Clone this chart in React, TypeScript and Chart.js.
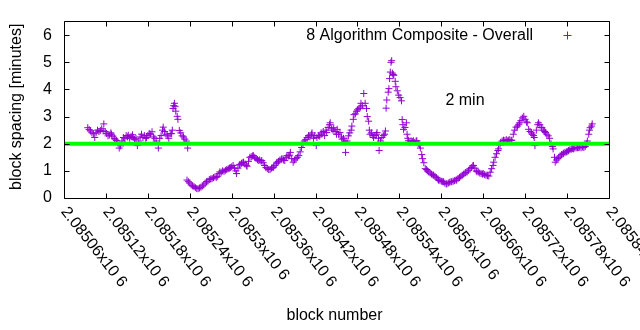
import React, { useEffect, useRef } from 'react';
import { Chart, registerables } from 'chart.js';

Chart.register(...registerables);

// ---- data (block numbers are BLOCK_BASE + offset) ----
const BLOCK_BASE = 2085000;

const blockOffsetsA = [
  94, 96, 98, 100, 102, 104, 106, 108, 110, 112,
  114, 116, 117, 119, 121, 123, 125, 127, 128, 130,
  132, 133, 135, 137, 139, 141, 143, 145, 147, 149,
  151, 152, 154, 156, 158, 159, 161, 163, 165, 167,
  169, 171, 173, 175, 177, 178, 180, 182, 184, 186,
  188, 190, 192, 195, 197, 199, 201, 202, 204, 206,
  208, 210, 212, 214, 215, 216, 217, 218, 219, 220,
  222, 223, 225, 227, 229, 231, 233, 235, 237,
];
const spacingA = [
  2.59, 2.52, 2.47, 2.4, 2.37, 2.23, 2.4, 2.5, 2.45, 2.49,
  2.55, 2.47, 2.73, 2.45, 2.38, 2.29, 2.32, 2.4, 2.35, 2.28,
  2.2, 2.17, 2.12, 2.05, 1.84, 1.92, 2.1, 2.23, 2.18, 2.3,
  2.25, 2.31, 2.2, 2.27, 2.33, 2.23, 2.15, 2.2, 1.93, 2.1,
  2.25, 2.35, 2.22, 2.3, 2.2, 2.23, 2.3, 2.38, 2.35, 2.44,
  2.25, 2.2, 2.1, 1.84, 2.2, 2.3, 2.5, 2.61, 2.45, 2.35,
  2.29, 2.2, 2.37, 2.37, 2.5, 3.3, 3.4, 3.49, 3.38, 3.2,
  3.01, 2.9, 2.49, 2.4, 2.29, 2.25, 2.17, 2.1, 1.84,
];

const blockOffsetsB = [
  236, 238, 240, 242, 244, 246, 248, 250, 252, 254,
  256, 258, 260, 262, 264, 266, 268, 270, 272, 274,
  276, 278, 280, 282, 283, 285, 287, 289, 291, 293,
  295, 297, 298, 300, 302, 304, 306, 307, 309, 311,
  312, 314, 316, 317, 319, 321, 322, 324, 326, 328,
  330, 331, 333, 335, 337, 338, 340, 342, 343, 345,
  347, 349, 351, 353, 355, 357, 359, 360, 362, 364,
  365, 367, 369, 371, 372, 374, 376, 378, 379, 381,
  383, 384,
];
const spacingB = [
  0.66, 0.6, 0.55, 0.48, 0.45, 0.42, 0.38, 0.35, 0.34, 0.37,
  0.4, 0.44, 0.48, 0.55, 0.6, 0.62, 0.68, 0.7, 0.72, 0.75,
  0.78, 0.76, 0.8, 0.9, 0.96, 0.95, 1.0, 0.98, 1.02, 1.05,
  1.08, 1.1, 1.12, 1.15, 1.2, 1.1, 1.0, 0.9, 1.1, 1.22,
  1.24, 1.28, 1.3, 1.32, 1.25, 1.2, 1.17, 1.35, 1.5, 1.52,
  1.55, 1.56, 1.5, 1.45, 1.42, 1.38, 1.4, 1.36, 1.38, 1.3,
  1.2, 1.12, 1.08, 1.05, 1.05, 1.1, 1.12, 1.14, 1.2, 1.28,
  1.32, 1.35, 1.4, 1.42, 1.45, 1.4, 1.38, 1.5, 1.56, 1.55,
  1.58, 1.68,
];

const blockOffsetsC = [
  386, 388, 390, 392, 394, 396, 398, 400, 402, 404,
  406, 408, 410, 412, 414, 415, 417, 419, 421, 422,
  424, 426, 428, 429, 431, 433, 435, 436, 438, 440,
  441, 443, 445, 446, 448, 450, 451, 453, 455, 457,
  458, 460, 462, 463, 465, 467, 469, 471, 472, 474,
  475, 477, 479, 480, 482, 484, 485, 487, 489, 491,
  493, 494, 496, 497, 498, 500, 502, 503, 505, 507,
  508, 510, 511, 513, 515, 517, 519, 520, 521, 522,
  524, 525, 526, 527, 528, 529, 530, 531, 532, 534,
  535, 537, 539, 541, 543, 544, 545, 546, 548, 550,
  551, 552, 553, 555, 557, 559, 560, 562, 564, 565,
  567, 569, 570, 572, 573, 575, 577, 579, 580, 582,
  584, 586, 588, 589, 591, 593, 595, 596, 598, 600,
  602, 603, 605, 607, 608, 610, 612, 614, 615, 617,
  619, 621, 622, 624, 626, 628, 630, 632, 634, 635,
  637, 639, 641, 643, 645, 646, 648, 650, 651, 653,
  655, 657, 659, 660, 662, 664, 666, 668, 670, 672,
  674, 675, 677, 679, 681, 682, 684, 685, 687, 689,
  691, 693, 695, 696, 698, 700, 701, 703, 705, 707,
  709, 711, 712, 714, 716, 718, 720, 722, 723, 725,
  727, 729, 730, 732, 733, 734, 736, 738, 739, 741,
  743, 744, 746, 748, 749, 751, 753, 755, 757, 759,
  760, 762, 763, 765, 767, 768, 770, 772, 774, 775,
  777, 779, 781, 782, 784, 786, 788, 789, 791, 793,
  795, 796, 798, 800, 802, 804, 806, 808, 809, 811,
  812, 813, 815, 816,
];
const spacingC = [
  1.45, 1.32, 1.4, 1.45, 1.5, 1.56, 1.7, 1.86, 2.0, 2.1,
  2.15, 2.23, 2.3, 2.25, 2.35, 2.4, 2.2, 2.3, 1.93, 2.23,
  2.3, 2.28, 2.4, 2.35, 2.45, 2.3, 2.5, 2.41, 2.6, 2.7,
  2.77, 2.55, 2.5, 2.59, 2.45, 2.35, 2.53, 2.35, 2.41, 2.25,
  2.17, 2.2, 2.1, 1.68, 2.1, 2.29, 2.4, 2.5, 2.65, 2.9,
  3.07, 3.1, 3.2, 3.25, 3.3, 3.35, 3.49, 3.4, 3.85, 3.49,
  3.3, 3.0, 2.83, 2.5, 2.35, 2.4, 2.3, 2.23, 2.3, 2.35,
  2.41, 2.2, 1.75, 2.1, 2.23, 2.3, 2.35, 2.47, 3.31, 3.61,
  3.9, 4.03, 4.4, 4.64, 5.0, 5.06, 4.6, 4.55, 4.52, 4.3,
  4.1, 3.95, 3.79, 3.7, 3.58, 2.89, 2.7, 2.53, 2.6, 2.77,
  2.35, 2.2, 2.11, 2.05, 2.1, 2.08, 2.11, 2.05, 2.1, 2.11,
  2.0, 1.95, 1.84, 1.6, 1.45, 1.3, 1.08, 1.05, 1.0, 0.96,
  0.92, 0.88, 0.85, 0.84, 0.8, 0.75, 0.7, 0.66, 0.65, 0.62,
  0.6, 0.6, 0.55, 0.52, 0.52, 0.55, 0.58, 0.6, 0.6, 0.62,
  0.64, 0.66, 0.66, 0.72, 0.76, 0.8, 0.84, 0.88, 0.92, 0.94,
  0.96, 1.02, 1.08, 1.12, 1.18, 1.2, 1.1, 1.0, 0.97, 0.96,
  0.92, 0.9, 0.88, 0.9, 0.86, 0.84, 0.82, 0.81, 0.95, 1.08,
  1.2, 1.32, 1.5, 1.63, 1.75, 1.81, 1.95, 2.05, 2.1, 2.13,
  2.12, 2.15, 2.1, 2.13, 2.15, 2.12, 2.13, 2.35, 2.5, 2.61,
  2.65, 2.7, 2.77, 2.85, 2.95, 3.01, 2.9, 2.8, 2.77, 2.53,
  2.45, 2.4, 2.35, 2.3, 2.23, 1.93, 2.5, 2.7, 2.77, 2.7,
  2.6, 2.59, 2.5, 2.45, 2.41, 2.35, 2.29, 2.2, 2.0, 1.9,
  1.81, 1.5, 1.32, 1.4, 1.45, 1.5, 1.55, 1.6, 1.62, 1.65,
  1.68, 1.7, 1.72, 1.75, 1.78, 1.8, 1.82, 1.81, 1.84, 1.85,
  1.85, 1.86, 1.87, 1.85, 1.88, 1.86, 1.9, 1.99, 2.1, 2.35,
  2.5, 2.59, 2.65, 2.73,
];

const TARGET_SPACING = 2;
const X_MIN = 2085060;
const X_MAX = 2085840;
const X_STEP = 60;
const Y_MIN = 0;
const Y_MAX = 6.5;
const Y_STEP = 1;

const seriesLabel = '8 Algorithm Composite - Overall';
const targetLabel = '2 min';
const xAxisTitle = 'block number';
const yAxisTitle = 'block spacing [minutes]';

const FONT = '"Liberation Sans", Arial, sans-serif';
const POINT_COLOR = '#9400d3';
const TARGET_COLOR = '#00ff00';

function formatBlockTick(v: number): string {
  const mant = (v / 1e6).toFixed(5).replace(/0+$/, '');
  return mant + 'x10 6';
}

const gnuplotDecor = {
  id: 'gnuplotDecor',
  afterDraw(chart: any) {
    const { ctx, chartArea: a, scales } = chart;
    const xs = scales.x;
    const ys = scales.y;
    const L = Math.floor(a.left) + 0.5;
    const R = Math.floor(a.right) + 0.5;
    const T = Math.floor(a.top) + 0.5;
    const B = Math.floor(a.bottom) + 0.5;
    const tl = 5;
    ctx.save();
    ctx.strokeStyle = '#000';
    ctx.lineWidth = 1;
    ctx.beginPath();
    ctx.rect(L, T, R - L, B - T);
    // x ticks (inward, mirrored)
    xs.ticks.forEach((t: any) => {
      const px = Math.round(xs.getPixelForValue(t.value)) + 0.5;
      ctx.moveTo(px, B);
      ctx.lineTo(px, B - tl);
      ctx.moveTo(px, T);
      ctx.lineTo(px, T + tl);
    });
    ys.ticks.forEach((t: any) => {
      const py = Math.round(ys.getPixelForValue(t.value)) + 0.5;
      ctx.moveTo(L, py);
      ctx.lineTo(L + tl, py);
      ctx.moveTo(R, py);
      ctx.lineTo(R - tl, py);
    });
    ctx.stroke();

    ctx.fillStyle = '#000';
    ctx.font = `16px ${FONT}`;
    // rotated x tick labels
    const ang = (52 * Math.PI) / 180;
    xs.ticks.forEach((t: any) => {
      const px = xs.getPixelForValue(t.value);
      ctx.save();
      ctx.translate(px, a.bottom + 11);
      ctx.rotate(ang);
      ctx.textAlign = 'left';
      ctx.textBaseline = 'middle';
      ctx.fillText(formatBlockTick(t.value), 0, 0);
      ctx.restore();
    });

    // x axis title
    ctx.textAlign = 'center';
    ctx.textBaseline = 'middle';
    ctx.fillText(xAxisTitle, (a.left + a.right) / 2 - 2, 316);

    // y axis title
    ctx.save();
    ctx.translate(17, (a.top + a.bottom) / 2 - 3);
    ctx.rotate(-Math.PI / 2);
    ctx.textAlign = 'center';
    ctx.textBaseline = 'middle';
    ctx.fillText(yAxisTitle, 0, 0);
    ctx.restore();

    // key (legend)
    ctx.textAlign = 'right';
    ctx.textBaseline = 'middle';
    const keyY = ys.getPixelForValue(6);
    ctx.fillText(seriesLabel, 533, keyY);
    ctx.strokeStyle = POINT_COLOR;
    ctx.beginPath();
    ctx.moveTo(563.5, Math.round(keyY) + 0.5);
    ctx.lineTo(571.5, Math.round(keyY) + 0.5);
    ctx.moveTo(567.5, Math.round(keyY) - 3.5);
    ctx.lineTo(567.5, Math.round(keyY) + 4.5);
    ctx.stroke();

    // target label
    ctx.textAlign = 'center';
    ctx.fillText(targetLabel, 465, 101);
    ctx.restore();
  },
};

export default function App() {
  const canvasRef = useRef<HTMLCanvasElement | null>(null);

  useEffect(() => {
    document.body.style.margin = '0';
    const canvas = canvasRef.current;
    if (!canvas) return;

    const points: { x: number; y: number }[] = [];
    const groups: [number[], number[]][] = [
      [blockOffsetsA, spacingA],
      [blockOffsetsB, spacingB],
      [blockOffsetsC, spacingC],
    ];
    groups.forEach(([blocks, vals]) => {
      blocks.forEach((b, i) => points.push({ x: BLOCK_BASE + b, y: vals[i] }));
    });

    const chart = new Chart(canvas, {
      type: 'scatter',
      data: {
        datasets: [
          {
            label: targetLabel,
            type: 'line',
            data: [
              { x: X_MIN, y: TARGET_SPACING },
              { x: X_MAX, y: TARGET_SPACING },
            ],
            borderColor: TARGET_COLOR,
            backgroundColor: TARGET_COLOR,
            borderWidth: 4,
            pointRadius: 0,
            order: 0,
          } as any,
          {
            label: seriesLabel,
            data: points,
            pointStyle: 'cross',
            pointRadius: 3.5,
            pointHoverRadius: 3.5,
            borderWidth: 1,
            borderColor: POINT_COLOR,
            backgroundColor: POINT_COLOR,
            order: 1,
          },
        ],
      },
      options: {
        responsive: false,
        animation: false,
        devicePixelRatio: 1,
        layout: { padding: { left: 0, right: 31, top: 19, bottom: 0 } },
        plugins: {
          legend: { display: false },
          tooltip: { enabled: false },
        },
        scales: {
          x: {
            type: 'linear',
            min: X_MIN,
            max: X_MAX,
            ticks: { display: false, stepSize: X_STEP, includeBounds: false },
            grid: { display: false },
            border: { display: false },
            afterFit: (s: any) => {
              s.height = 132;
            },
          },
          y: {
            type: 'linear',
            min: Y_MIN,
            max: Y_MAX,
            ticks: {
              stepSize: Y_STEP,
              includeBounds: false,
              color: '#000',
              padding: 12,
              font: { family: FONT, size: 16 },
            },
            grid: { drawOnChartArea: false, drawTicks: false },
            border: { display: false },
            afterFit: (s: any) => {
              s.width = 64;
            },
          },
        },
      },
      plugins: [gnuplotDecor],
    });

    return () => chart.destroy();
  }, []);

  return (
    <div style={{ position: 'absolute', left: 0, top: 0, width: 640, height: 330, background: '#fff' }}>
      <canvas ref={canvasRef} width={640} height={330} />
    </div>
  );
}
